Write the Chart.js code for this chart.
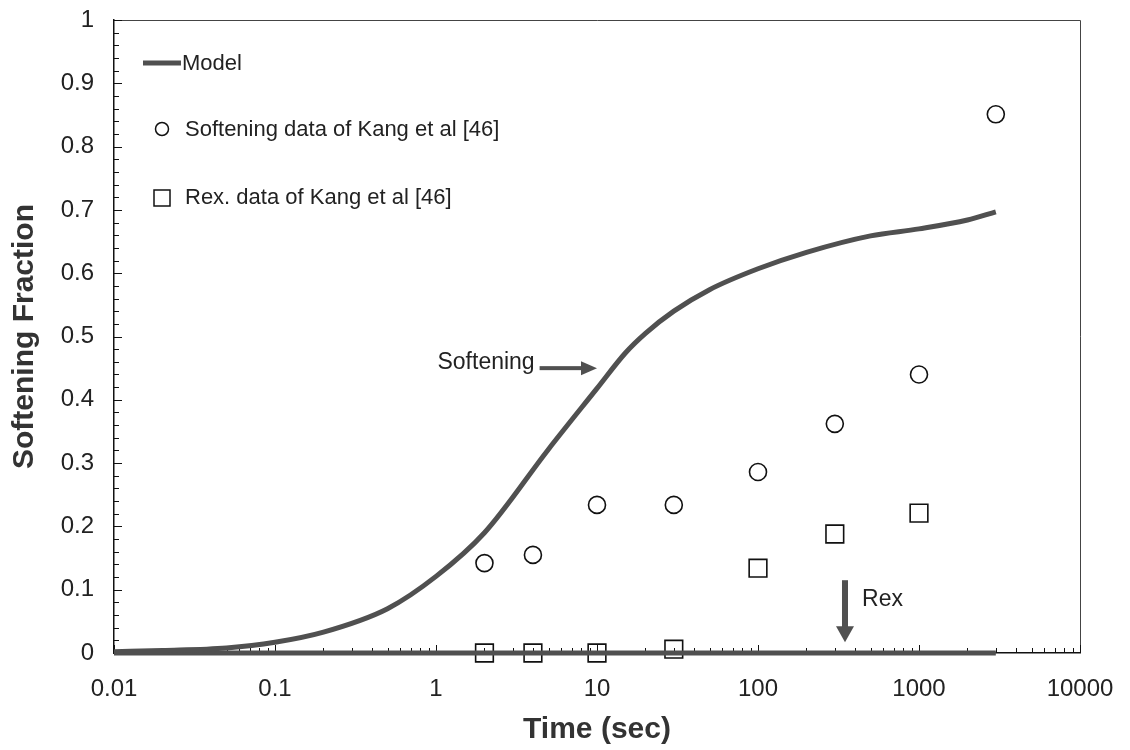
<!DOCTYPE html>
<html>
<head>
<meta charset="utf-8">
<script src="https://cdn.jsdelivr.net/npm/chart.js@4.4.0/dist/chart.umd.min.js"></script>
<style>
  html, body { margin: 0; padding: 0; background: #fff; }
  #wrap { width: 1130px; height: 750px; }
</style>
</head>
<body>
<div id="wrap"><canvas id="chart" width="1130" height="750"></canvas></div>
<script>
// model curve (time in sec, fraction)
const modelTimes = [0.01, 0.02, 0.05, 0.1, 0.2, 0.5, 1, 2, 5, 10, 15, 20, 30, 50, 100, 200, 500, 1000, 2000, 3000];
const modelSoftening = [0.002, 0.004, 0.008, 0.017, 0.033, 0.07, 0.121, 0.19, 0.322, 0.418, 0.474, 0.505, 0.54, 0.574, 0.607, 0.633, 0.659, 0.67, 0.684, 0.697];
const rexModelTimes = [0.01, 0.1, 1, 10, 100, 1000, 3000];
const rexModel = [0, 0, 0, 0, 0, 0, 0];

// measured data of Kang et al
const softTimes = [2, 4, 10, 30, 100, 300, 1000, 3000];
const softValues = [0.142, 0.155, 0.234, 0.234, 0.286, 0.362, 0.44, 0.851];
const rexTimes = [2, 4, 10, 30, 100, 300, 1000];
const rexValues = [0, 0, 0, 0.006, 0.134, 0.188, 0.221];

const xTicks = [0.01, 0.1, 1, 10, 100, 1000, 10000];
const xTickLabels = ['0.01', '0.1', '1', '10', '100', '1000', '10000'];
const yTicks = [0, 0.1, 0.2, 0.3, 0.4, 0.5, 0.6, 0.7, 0.8, 0.9, 1];
const yTickLabels = ['0', '0.1', '0.2', '0.3', '0.4', '0.5', '0.6', '0.7', '0.8', '0.9', '1'];

const FONT = '"Liberation Sans", Arial, sans-serif';
const LINE = '#505050';
const toXY = (xs, ys) => xs.map((x, i) => ({ x: x, y: ys[i] }));

// frame, inward ticks, legend, arrows
const decor = {
  id: 'decor',
  beforeDatasetsDraw(chart) {
    const { ctx, chartArea: a, scales: { x, y } } = chart;
    ctx.save();
    ctx.strokeStyle = '#444';
    ctx.lineWidth = 1;
    ctx.beginPath();
    ctx.moveTo(a.left, a.top + 0.5);
    ctx.lineTo(a.right + 0.5, a.top + 0.5);
    ctx.lineTo(a.right + 0.5, a.bottom);
    ctx.stroke();

    ctx.strokeStyle = '#111';
    ctx.beginPath();
    for (let i = 0; i <= 50; i++) {
      const py = Math.round(y.getPixelForValue(i / 50)) + 0.5;
      const len = i % 5 === 0 ? 8 : 5;
      ctx.moveTo(a.left, py);
      ctx.lineTo(a.left + len, py);
    }
    for (let d = 0; d < xTicks.length; d++) {
      for (let m = 1; m <= 9; m++) {
        if (d === xTicks.length - 1 && m > 1) break;
        const px = Math.round(x.getPixelForValue(xTicks[d] * m)) + 0.5;
        const len = m === 1 ? 8 : 5;
        ctx.moveTo(px, a.bottom);
        ctx.lineTo(px, a.bottom - len);
      }
    }
    ctx.stroke();
    ctx.restore();
  },
  afterDraw(chart) {
    const { ctx, chartArea: a, scales: { x, y } } = chart;
    ctx.save();
    ctx.fillStyle = '#222';
    ctx.textBaseline = 'middle';
    ctx.font = '22px ' + FONT;

    // legend
    ctx.strokeStyle = LINE;
    ctx.lineWidth = 5;
    ctx.beginPath();
    ctx.moveTo(a.left + 29, a.top + 43);
    ctx.lineTo(a.left + 67, a.top + 43);
    ctx.stroke();
    ctx.fillText('Model', a.left + 68, a.top + 44);

    ctx.strokeStyle = '#111';
    ctx.lineWidth = 1.5;
    ctx.beginPath();
    ctx.arc(a.left + 48, a.top + 109, 6.5, 0, Math.PI * 2);
    ctx.stroke();
    ctx.fillText('Softening data of Kang et al [46]', a.left + 71, a.top + 110);

    ctx.strokeRect(a.left + 40, a.top + 170, 16, 16);
    ctx.fillText('Rex. data of Kang et al [46]', a.left + 71, a.top + 178);

    // "Softening" arrow
    ctx.font = '23px ' + FONT;
    const sy = y.getPixelForValue(0.45);
    const sx0 = x.getPixelForValue(4.4), sx1 = x.getPixelForValue(10);
    ctx.textAlign = 'right';
    ctx.fillText('Softening', x.getPixelForValue(4.1), sy - 5);
    ctx.fillStyle = LINE;
    ctx.fillRect(sx0, sy - 2, sx1 - sx0 - 14, 4);
    ctx.beginPath();
    ctx.moveTo(sx1, sy);
    ctx.lineTo(sx1 - 16, sy - 7);
    ctx.lineTo(sx1 - 16, sy + 7);
    ctx.closePath();
    ctx.fill();

    // "Rex" arrow
    const rx = x.getPixelForValue(347);
    const ry0 = y.getPixelForValue(0.115), ry1 = y.getPixelForValue(0.017);
    ctx.fillRect(rx - 3, ry0, 6, ry1 - ry0 - 14);
    ctx.beginPath();
    ctx.moveTo(rx, ry1);
    ctx.lineTo(rx - 9, ry1 - 16);
    ctx.lineTo(rx + 9, ry1 - 16);
    ctx.closePath();
    ctx.fill();
    ctx.fillStyle = '#222';
    ctx.textAlign = 'left';
    ctx.fillText('Rex', x.getPixelForValue(443), y.getPixelForValue(0.084));
    ctx.restore();
  }
};

const ctx = document.getElementById('chart').getContext('2d');
new Chart(ctx, {
  type: 'line',
  data: {
    datasets: [
      {
        label: 'Model',
        data: toXY(modelTimes, modelSoftening),
        borderColor: LINE,
        borderWidth: 5,
        pointRadius: 0,
        cubicInterpolationMode: 'monotone',
        fill: false,
      },
      {
        label: 'Model Rex',
        data: toXY(rexModelTimes, rexModel),
        borderColor: LINE,
        borderWidth: 5,
        pointRadius: 0,
        fill: false,
        clip: false,
      },
      {
        label: 'Softening data of Kang et al [46]',
        data: toXY(softTimes, softValues),
        showLine: false,
        pointStyle: 'circle',
        pointRadius: 8.5,
        pointBorderWidth: 1.6,
        pointBorderColor: '#111',
        pointBackgroundColor: 'rgba(0,0,0,0)',
        clip: false,
      },
      {
        label: 'Rex. data of Kang et al [46]',
        data: toXY(rexTimes, rexValues),
        showLine: false,
        pointStyle: 'rect',
        pointRadius: 12.5,
        pointBorderWidth: 1.6,
        pointBorderColor: '#111',
        pointBackgroundColor: 'rgba(0,0,0,0)',
        clip: false,
      },
    ],
  },
  options: {
    responsive: false,
    animation: false,
    devicePixelRatio: 1,
    layout: { padding: { left: 0, right: 50, top: 20, bottom: 0 } },
    plugins: {
      legend: { display: false },
      tooltip: { enabled: false },
    },
    scales: {
      x: {
        type: 'logarithmic',
        position: 'bottom',
        min: 0.01,
        max: 10000,
        afterBuildTicks: (s) => { s.ticks = xTicks.map((v) => ({ value: v, major: true })); },
        afterFit: (s) => { s.height = 97; s.paddingLeft = 0; s.paddingRight = 0; },
        ticks: {
          callback: (v, i) => xTickLabels[i],
          autoSkip: false,
          maxRotation: 0,
          color: '#222',
          padding: 22,
          font: { family: FONT, size: 24 },
        },
        grid: { display: false, drawTicks: false },
        border: { display: true, color: '#111', width: 1.5 },
        title: {
          display: true,
          text: 'Time (sec)',
          color: '#333',
          font: { family: FONT, size: 30, weight: 'bold' },
          padding: { top: 0, bottom: 2 },
        },
      },
      y: {
        type: 'linear',
        min: 0,
        max: 1,
        afterBuildTicks: (s) => { s.ticks = yTicks.map((v) => ({ value: v })); },
        afterFit: (s) => { s.width = 114; s.paddingTop = 0; s.paddingBottom = 0; },
        ticks: {
          callback: (v, i) => yTickLabels[i],
          color: '#222',
          padding: 20,
          font: { family: FONT, size: 24 },
        },
        grid: { display: false, drawTicks: false },
        border: { display: true, color: '#111', width: 1.5 },
        title: {
          display: true,
          text: 'Softening Fraction',
          color: '#333',
          font: { family: FONT, size: 30, weight: 'bold' },
          padding: { top: 7, bottom: 0 },
        },
      },
    },
  },
  plugins: [decor],
});
</script>
</body>
</html>
